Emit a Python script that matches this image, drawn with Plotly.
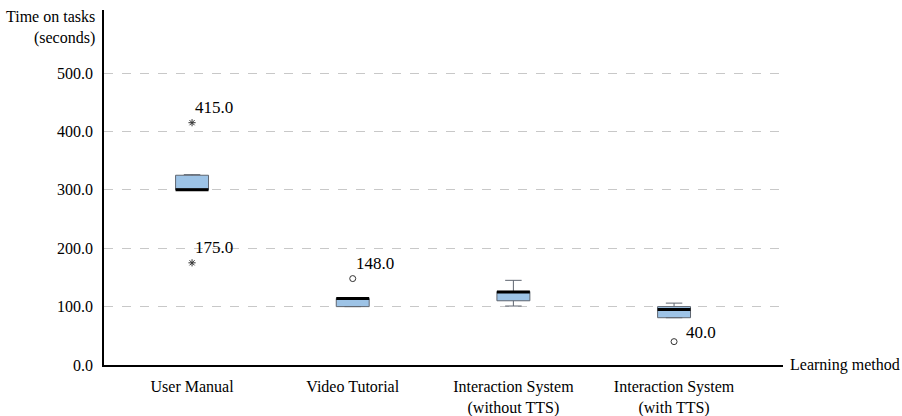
import plotly.graph_objects as go

categories = ["User Manual", "Video Tutorial", "Interaction System<br>(without TTS)", "Interaction System<br>(with TTS)"]
q1 = [300, 100, 110, 81]
median = [300, 114, 125, 95]
q3 = [325, 114, 126, 100]
lower_fence = [300, 100, 101, 81]
upper_fence = [326, 115, 145, 106]

outlier_x = [0, 0, 1, 3]
outlier_y = [415.0, 175.0, 148.0, 40.0]
outlier_symbol = ["asterisk-open", "asterisk-open", "circle-open", "circle-open"]

y_ticks = [0, 100, 200, 300, 400, 500]

FONT = "'Liberation Serif', 'DejaVu Serif', serif"
BOX_W = 0.205
xpos = list(range(len(categories)))
label_shift = [(1, 4), (1, 4), (1, 4), (10, -2)]

fig = go.Figure()
fig.add_trace(go.Box(
    x=xpos, q1=q1, median=median, q3=q3,
    lowerfence=lower_fence, upperfence=upper_fence,
    width=BOX_W, whiskerwidth=0.5,
    fillcolor="#9dc3e6",
    line=dict(color="#5f6670", width=1),
    boxpoints=False, showlegend=False, hoverinfo="skip",
))

fig.add_trace(go.Scatter(
    x=outlier_x, y=outlier_y, mode="markers",
    marker=dict(symbol=outlier_symbol, size=6, color="#333333", line=dict(width=1, color="#333333")),
    showlegend=False, hoverinfo="skip",
))

shapes = []
for i, m in enumerate(median):
    shapes.append(dict(type="line", xref="x", yref="y",
                       x0=i - BOX_W / 2, x1=i + BOX_W / 2, y0=m, y1=m,
                       line=dict(color="black", width=3)))

annotations = []
for (x, y), (dx, dy) in zip(zip(outlier_x, outlier_y), label_shift):
    annotations.append(dict(x=x, y=y, xref="x", yref="y", text=f"{y:.1f}",
                            showarrow=False, xanchor="left", yanchor="bottom",
                            xshift=dx, yshift=dy, font=dict(family=FONT, size=17, color="black")))
annotations.append(dict(x=0, y=1, xref="paper", yref="paper", text="Time on tasks<br>(seconds)",
                        showarrow=False, xanchor="right", yanchor="top", align="right",
                        xshift=-7, yshift=4, font=dict(family=FONT, size=16, color="black")))
annotations.append(dict(x=1, y=0, xref="paper", yref="paper", text="Learning method",
                        showarrow=False, xanchor="left", yanchor="middle",
                        xshift=5, font=dict(family=FONT, size=16, color="black")))

fig.update_layout(
    width=902, height=416,
    margin=dict(l=104, r=119, t=10, b=51),
    paper_bgcolor="white", plot_bgcolor="white",
    font=dict(family=FONT, size=16, color="black"),
    shapes=shapes, annotations=annotations,
    xaxis=dict(range=[-0.548, 3.678], tickvals=xpos, ticktext=categories,
               showline=True, linecolor="black", linewidth=1.5, showgrid=False,
               zeroline=False, ticks="", ticklabelstandoff=6, automargin=False,
               tickfont=dict(family=FONT, size=16)),
    yaxis=dict(range=[0, 608], tickvals=y_ticks, tickformat=".1f",
               showline=True, linecolor="black", linewidth=1.5,
               showgrid=True, gridcolor="#c8c8c8", griddash="dash", gridwidth=1,
               zeroline=False, ticks="", ticklabelstandoff=6, automargin=False,
               tickfont=dict(family=FONT, size=16)),
)

fig.write_html("out.html")
